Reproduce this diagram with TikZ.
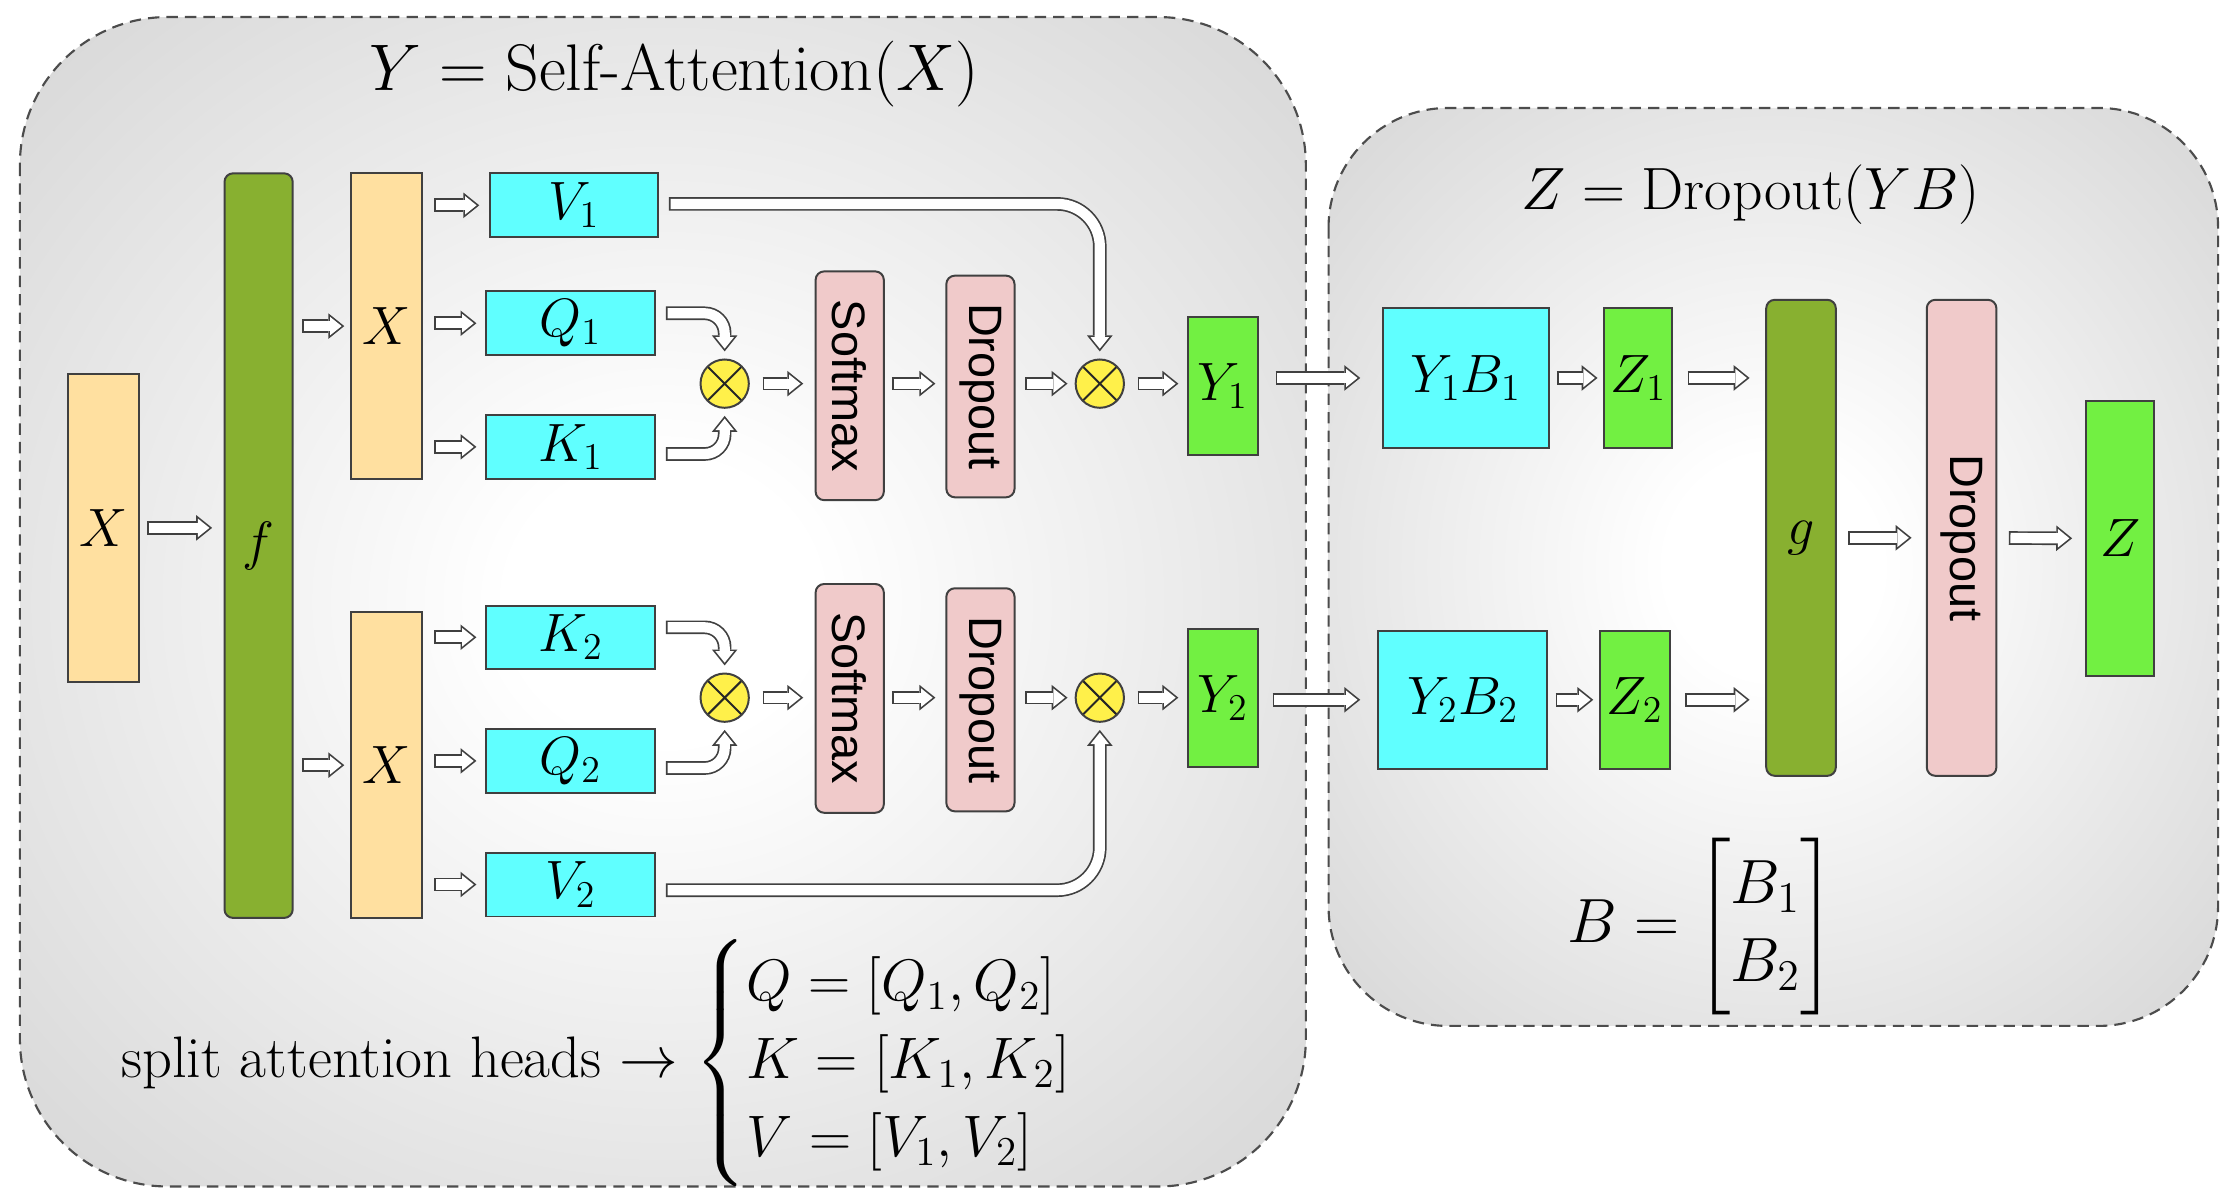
\RequirePackage{fix-cm}
\documentclass[tikz,border=0pt]{standalone}
\usepackage{amsmath}
\usepackage{fontspec}
\newfontfamily\sansf{Liberation Sans}
\usetikzlibrary{arrows.meta,calc}
\definecolor{cpeach}{HTML}{FFE0A0}
\definecolor{colive}{HTML}{88B030}
\definecolor{ccyan}{HTML}{60FFFF}
\definecolor{cpink}{HTML}{F0CACA}
\definecolor{cgreen}{HTML}{72F042}
\definecolor{cyell}{HTML}{FFF04A}
\definecolor{bgA}{gray}{1.0}
\definecolor{bgM}{gray}{0.86}
\definecolor{bgB}{gray}{0.77}
\definecolor{bgC}{gray}{0.70}
\pgfdeclareradialshading{bgshade}{\pgfpoint{0bp}{0bp}}{color(0bp)=(bgA); color(6bp)=(bgA); color(32bp)=(bgM); color(50bp)=(bgB); color(72bp)=(bgC)}
\newcommand{\lab}{\fontsize{19}{22}\selectfont}
\newcommand{\darr}[4][]{%
  \pgfmathsetlengthmacro{\shInA}{#2+0.6pt}%
  \pgfmathsetlengthmacro{\shInB}{#3+0.96pt}%
  \draw[arrout,#1,shorten <=#2,shorten >=#3] #4;
  \draw[arrin,#1,shorten <=\shInA,shorten >=\shInB] #4;}
\begin{document}
\begin{tikzpicture}[x=0.5pt,y=-0.5pt,
  box/.style={draw=black!75, line width=0.7pt, inner sep=0pt, font=\lab},
  peach/.style={box, fill=cpeach},
  oliveb/.style={box, fill=colive, rounded corners=3pt},
  cyanb/.style={box, fill=ccyan},
  pinkb/.style={box, fill=cpink, rounded corners=3pt, font=\sansf\fontsize{16.5}{19}\selectfont},
  greenb/.style={box, fill=cgreen},
  mult/.style={circle, draw=black!75, line width=0.7pt, fill=cyell, minimum size=17pt, inner sep=0pt,
     path picture={\draw[line width=0.7pt, black!85] (path picture bounding box.north east) -- (path picture bounding box.south west)
                    (path picture bounding box.north west) -- (path picture bounding box.south east);}},
  arrout/.style={draw=black!75, line width=4.8pt, -{Triangle[width=9pt,length=5.6pt,line width=0pt]}},
  arrin/.style={draw=white, line width=3.6pt, -{Triangle[width=6.5pt,length=4.04pt,line width=0pt]}},
  frame/.style={draw=black!70, line width=0.75pt, dash pattern=on 4pt off 2.5pt, shading=bgshade}
]
\useasboundingbox (0,0) rectangle (1568,845);
% frames
\path[frame, rounded corners=52pt] (14,12) rectangle (919,835);
\path[frame, rounded corners=42pt] (935,76) rectangle (1561,722);
% titles
\node[font=\fontsize{23.2}{27}\selectfont] (t1) at (474.5,52) {$Y = \text{Self-Attention}(X)$};
\node[font=\fontsize{21}{25}\selectfont] (t2) at (1232,137) {$Z = \text{Dropout}(YB)$};
% left column
\node[peach, minimum width=25pt, minimum height=108.5pt] (X0) at (73,371.5) {$X$};
\node[oliveb, minimum width=24pt, minimum height=262pt] (f) at (182,384) {$f$};
\node[peach, minimum width=25pt, minimum height=107.5pt] (Xa) at (272,229.5) {$X$};
\node[peach, minimum width=25pt, minimum height=107.5pt] (Xb) at (272,538.5) {$X$};
% V Q K
\node[cyanb, minimum width=59pt, minimum height=22.5pt] (V1) at (404,144.5) {$V_1$};
\node[cyanb, minimum width=59.5pt, minimum height=22.5pt] (Q1) at (401.5,227.5) {$Q_1$};
\node[cyanb, minimum width=59.5pt, minimum height=22.5pt] (K1) at (401.5,314.5) {$K_1$};
\node[cyanb, minimum width=59.5pt, minimum height=22pt] (K2) at (401.5,448.5) {$K_2$};
\node[cyanb, minimum width=59.5pt, minimum height=22.5pt] (Q2) at (401.5,535.5) {$Q_2$};
\node[cyanb, minimum width=59.5pt, minimum height=22.5pt] (V2) at (401.5,622.5) {$V_2$};
% upper head
\node[mult] (m1) at (510,270) {};
\node[pinkb, minimum width=24pt, minimum height=80.5pt] (S1) at (598,271.5) {\rotatebox{-90}{Softmax}};
\node[pinkb, minimum width=24pt, minimum height=78pt] (D1) at (690,272) {\rotatebox{-90}{Dropout}};
\node[mult] (m2) at (774,270) {};
\node[greenb, minimum width=24.5pt, minimum height=48.5pt] (Y1) at (860.5,271.5) {$Y_1$};
% lower head
\node[mult] (m3) at (510,491) {};
\node[pinkb, minimum width=24pt, minimum height=80.5pt] (S2) at (598,491.5) {\rotatebox{-90}{Softmax}};
\node[pinkb, minimum width=24pt, minimum height=78.5pt] (D2) at (690,492.5) {\rotatebox{-90}{Dropout}};
\node[mult] (m4) at (774,491) {};
\node[greenb, minimum width=24.5pt, minimum height=48.5pt] (Y2) at (860.5,491.5) {$Y_2$};
% right part
\node[cyanb, minimum width=58.5pt, minimum height=49pt] (YB1) at (1031.5,266) {$Y_1B_1$};
\node[greenb, minimum width=24pt, minimum height=49pt] (Z1) at (1153,266) {$Z_1$};
\node[cyanb, minimum width=59.5pt, minimum height=48.5pt] (YB2) at (1029.5,492.5) {$Y_2B_2$};
\node[greenb, minimum width=24.5pt, minimum height=48.5pt] (Z2) at (1150.5,492.5) {$Z_2$};
\node[oliveb, minimum width=24.5pt, minimum height=167.5pt] (g) at (1267.5,378.5) {$g$};
\node[pinkb, minimum width=24.5pt, minimum height=167.5pt] (D3) at (1380.5,378.5) {\rotatebox{-90}{Dropout}};
\node[greenb, minimum width=24pt, minimum height=97pt] (Z) at (1492,379) {$Z$};
% formulas
\node[font=\fontsize{20.6}{22.9}\selectfont, anchor=west, inner sep=0pt] (split) at (85,748)
  {split attention heads $\rightarrow \begin{cases} Q=[Q_1,Q_2]\\ K=[K_1,K_2]\\ V=[V_1,V_2]\end{cases}$};
\node[font=\fontsize{22}{27.5}\selectfont, inner sep=0pt] (Bm) at (1197,652) {$B = \begin{bmatrix} B_1\\ B_2\end{bmatrix}$};
% arrows
\darr{2.5pt}{4pt}{(X0) -- (X0 -| f.west)}
\darr{3pt}{2pt}{(f.east |- Xa) -- (Xa)}
\darr{3pt}{2pt}{(f.east |- Xb) -- (Xb)}
\darr{4pt}{3.5pt}{(Xa.east |- V1) -- (V1)}
\darr{4pt}{3pt}{(Xa.east |- Q1) -- (Q1)}
\darr{4pt}{3pt}{(Xa.east |- K1) -- (K1)}
\darr{4pt}{3pt}{(Xb.east |- K2) -- (K2)}
\darr{4pt}{3pt}{(Xb.east |- Q2) -- (Q2)}
\darr{4pt}{3pt}{(Xb.east |- V2) -- (V2)}
\darr[rounded corners=7pt]{3.5pt}{2.5pt}{([yshift=3.5pt]Q1.east) -| (m1)}
\darr[rounded corners=7pt]{3.5pt}{2.5pt}{([yshift=-2.5pt]K1.east) -| (m1)}
\darr[rounded corners=7pt]{3.5pt}{2.5pt}{([yshift=3.5pt]K2.east) -| (m3)}
\darr[rounded corners=7pt]{3.5pt}{2.5pt}{([yshift=-2.5pt]Q2.east) -| (m3)}
\darr[rounded corners=15pt]{3.5pt}{2.5pt}{([yshift=0.5pt]V1.east) -| (m2)}
\darr[rounded corners=15pt]{3.5pt}{2.5pt}{([yshift=-2pt]V2.east) -| (m4)}
\darr{4.5pt}{4pt}{(m1) -- (m1 -| S1.west)}
\darr{2.5pt}{3.5pt}{(m1 -| S1.east) -- (m1 -| D1.west)}
\darr{3.5pt}{2.5pt}{(m1 -| D1.east) -- (m2)}
\darr{4.5pt}{3pt}{(m2) -- (m2 -| Y1.west)}
\darr{4.5pt}{4pt}{(m3) -- (m3 -| S2.west)}
\darr{2.5pt}{3.5pt}{(m3 -| S2.east) -- (m3 -| D2.west)}
\darr{3.5pt}{2.5pt}{(m3 -| D2.east) -- (m4)}
\darr{4.5pt}{3pt}{(m4) -- (m4 -| Y2.west)}
\darr{6pt}{7.5pt}{(Y1.east |- YB1) -- (YB1)}
\darr{5pt}{6pt}{(Y2.east |- YB2) -- (YB2)}
\darr{2.5pt}{2pt}{(YB1) -- (Z1)}
\darr{2.5pt}{2pt}{(YB2) -- (Z2)}
\darr{5pt}{5.5pt}{(Z1) -- (Z1 -| g.west)}
\darr{5pt}{5.5pt}{(Z2) -- (Z2 -| g.west)}
\darr{4pt}{5pt}{(g) -- (D3)}
\darr{4pt}{4.5pt}{(D3) -- (Z)}
\end{tikzpicture}
\end{document}
